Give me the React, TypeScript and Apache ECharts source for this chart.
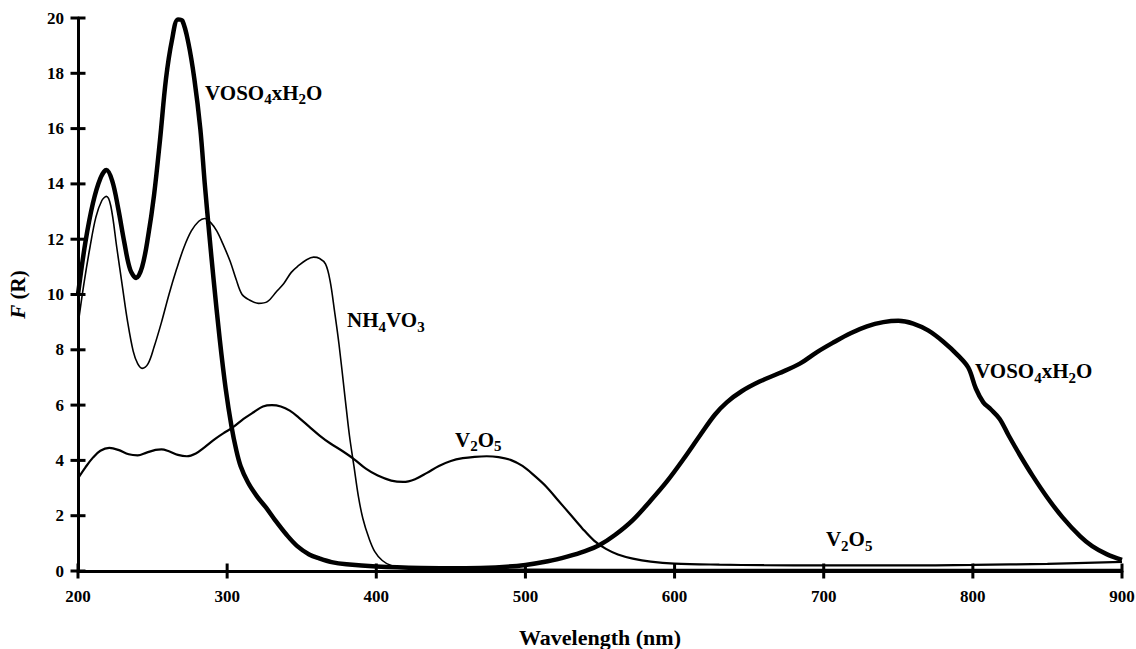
import React, { useEffect, useRef } from "react";
import * as echarts from "echarts";

const FONT = "'Liberation Serif', 'Times New Roman', serif";

// Wavelength axis ticks (nm) and F(R) axis ticks
const xTicks = [200, 300, 400, 500, 600, 700, 800, 900];
const yTicks = [0, 2, 4, 6, 8, 10, 12, 14, 16, 18, 20];

// VOSO4·xH2O spectrum
const vosoNm = [
  200, 205, 210, 215, 219, 223, 227, 231, 235, 239, 243, 247, 251, 255, 259, 263, 267, 270,
  274, 278, 282, 285, 288, 291, 295, 299, 303, 306, 309, 314, 320, 326, 332, 340, 347, 355,
  362, 370, 380, 400, 430, 460, 480, 500, 515, 528, 540, 550, 560, 572, 584, 595, 606, 617,
  627, 635, 645, 657, 670, 684, 695, 706, 718, 729, 740, 750, 760, 770, 780, 790, 797, 802,
  807, 812, 818, 824, 832, 840, 850, 860, 872, 880, 890, 900,
];
const vosoF = [
  10.0, 11.9, 13.3, 14.2, 14.5, 14.1, 13.1, 11.9, 10.9, 10.6, 11.0, 12.1, 13.6, 15.6, 17.8,
  19.2, 19.95, 19.9, 19.1, 17.8, 16.0, 14.0, 12.2, 10.5, 8.4, 6.6, 5.2, 4.4, 3.8, 3.2, 2.7,
  2.3, 1.85, 1.3, 0.9, 0.6, 0.45, 0.32, 0.24, 0.16, 0.11, 0.1, 0.13, 0.22, 0.35, 0.52, 0.72,
  0.95, 1.3, 1.84, 2.55, 3.25, 4.05, 4.9, 5.65, 6.1, 6.5, 6.85, 7.15, 7.5, 7.9, 8.25, 8.6,
  8.85, 9.0, 9.05, 8.95, 8.7, 8.3, 7.8, 7.35, 6.6, 6.1, 5.85, 5.5, 4.9, 4.15, 3.45, 2.65,
  1.95, 1.25, 0.9, 0.6, 0.4,
];

// NH4VO3 spectrum
const nh4Nm = [
  200, 204, 208, 212, 216, 219, 222, 226, 230, 233, 237, 240, 243, 247, 251, 256, 261, 266,
  271, 276, 281, 285, 289, 293, 297, 302, 306, 310, 315, 321, 327, 333, 338, 343, 348, 353,
  358, 362, 366, 369, 372, 375, 379, 382, 385, 388, 391, 395, 399, 404, 410, 420, 450, 500,
  600, 700, 800, 900,
];
const nh4F = [
  8.9, 10.4, 11.7, 12.8, 13.4, 13.55, 13.2, 11.7, 10.2, 9.1, 7.95, 7.5, 7.33, 7.5, 8.1, 9.0,
  10.0, 10.9, 11.7, 12.3, 12.65, 12.75, 12.6, 12.3, 11.85, 11.2, 10.55, 10.0, 9.8, 9.68,
  9.74, 10.1, 10.4, 10.8, 11.05, 11.25, 11.35, 11.3, 11.1, 10.5, 9.4, 8.2, 6.3, 4.9, 3.8,
  2.7, 1.9, 1.2, 0.7, 0.38, 0.2, 0.12, 0.08, 0.06, 0.05, 0.05, 0.05, 0.05,
];

// V2O5 spectrum
const v2o5Nm = [
  200, 205, 210, 215, 221, 227, 234, 240, 246, 252, 256, 261, 267, 273, 279, 285, 292, 298,
  304, 311, 318, 324, 330, 336, 342, 348, 355, 362, 369, 377, 385, 393, 401, 410, 418, 426,
  434, 442, 450, 458, 466, 474, 482, 490, 498, 506, 514, 522, 530, 538, 546, 554, 562, 572,
  584, 600, 630, 660, 700, 750, 800, 850, 900,
];
const v2o5F = [
  3.35, 3.75, 4.1, 4.35, 4.45, 4.38, 4.22, 4.18, 4.28, 4.38, 4.4, 4.33, 4.2, 4.15, 4.25,
  4.48, 4.78, 5.0, 5.2, 5.5, 5.75, 5.95, 6.0, 5.95, 5.8, 5.55, 5.22, 4.9, 4.62, 4.35, 4.05,
  3.7, 3.45, 3.27, 3.22, 3.32, 3.55, 3.8, 3.98, 4.08, 4.13, 4.15, 4.12, 4.02, 3.8, 3.45,
  3.05, 2.55, 2.05, 1.55, 1.1, 0.8, 0.6, 0.45, 0.34, 0.27, 0.23, 0.21, 0.2, 0.2, 0.22,
  0.26, 0.33,
];

// Curve labels: rich-text markup and anchor (left edge, text middle) in data units
const labelTexts = [
  "{m|VOSO}{s|4}{m|xH}{s|2}{m|O}",
  "{m|NH}{s|4}{m|VO}{s|3}",
  "{m|V}{s|2}{m|O}{s|5}",
  "{m|VOSO}{s|4}{m|xH}{s|2}{m|O}",
  "{m|V}{s|2}{m|O}{s|5}",
];
const labelNm = [285.2, 380.4, 452.8, 801.5, 701.5];
const labelF = [17.29, 9.06, 4.74, 7.23, 1.14];

const zip = (xs: number[], ys: number[]) => xs.map((x, i) => [x, ys[i]]);

const labelRich = {
  m: { fontFamily: FONT, fontWeight: "bold", fontSize: 21, lineHeight: 28, fill: "#000", color: "#000" },
  s: {
    fontFamily: FONT,
    fontWeight: "bold",
    fontSize: 15,
    lineHeight: 15,
    verticalAlign: "bottom",
    fill: "#000",
    color: "#000",
  },
};

// Tick marks straddling each axis line: half-length and thickness
const TICK_HALF = 7.5;
const TICK_W = 3;

export default function App() {
  const ref = useRef<HTMLDivElement>(null);

  useEffect(() => {
    if (!ref.current) return;
    const chart = echarts.init(ref.current, undefined, { renderer: "svg" });

    const axisFont = { fontFamily: FONT, fontWeight: "bold" as const, fontSize: 17, color: "#000" };
    const lineStyle = { color: "#000", width: 3 };

    chart.setOption({
      animation: false,
      backgroundColor: "#fff",
      grid: { left: 78, right: 14, top: 18, bottom: 78, containLabel: false, outerBoundsMode: "none" },
      xAxis: {
        type: "value",
        min: xTicks[0],
        max: xTicks[xTicks.length - 1],
        interval: 100,
        position: "bottom",
        name: "Wavelength (nm)",
        nameLocation: "middle",
        nameGap: 55,
        nameTextStyle: { fontFamily: FONT, fontWeight: "bold", fontSize: 22, color: "#000" },
        axisLine: { show: true, onZero: false, lineStyle },
        axisTick: { show: false },
        axisLabel: { ...axisFont, margin: 17 },
        splitLine: { show: false },
      },
      yAxis: {
        type: "value",
        min: yTicks[0],
        max: yTicks[yTicks.length - 1],
        interval: 2,
        position: "left",
        name: "{i|F} (R)",
        nameLocation: "middle",
        nameGap: 50,
        nameTextStyle: {
          fontFamily: FONT,
          fontWeight: "bold",
          fontSize: 21,
          color: "#000",
          rich: {
            i: { fontFamily: FONT, fontWeight: "bold", fontStyle: "italic", fontSize: 21, color: "#000" },
          },
        },
        axisLine: { show: true, onZero: false, lineStyle },
        axisTick: { show: false },
        axisLabel: { ...axisFont, margin: 14 },
        splitLine: { show: false },
      },
      series: [
        {
          name: "V2O5",
          type: "line",
          data: zip(v2o5Nm, v2o5F),
          showSymbol: false,
          smooth: 0.35,
          lineStyle: { color: "#000", width: 2.2 },
          z: 3,
        },
        {
          name: "NH4VO3",
          type: "line",
          data: zip(nh4Nm, nh4F),
          showSymbol: false,
          smooth: 0.35,
          lineStyle: { color: "#000", width: 1.6 },
          z: 3,
        },
        {
          name: "VOSO4xH2O",
          type: "line",
          data: zip(vosoNm, vosoF),
          showSymbol: false,
          smooth: 0.35,
          lineStyle: { color: "#000", width: 4.5 },
          z: 4,
        },
      ],
    });

    const toPx = (x: number, y: number) =>
      chart.convertToPixel({ gridIndex: 0 }, [x, y]) as number[];

    const xTickMarks = xTicks.map((v) => {
      const [px, py] = toPx(v, yTicks[0]);
      return {
        type: "rect",
        z: 20,
        shape: { x: px - TICK_W / 2, y: py - TICK_HALF, width: TICK_W, height: TICK_HALF * 2 },
        style: { fill: "#000" },
      };
    });
    const yTickMarks = yTicks.map((v) => {
      const [px, py] = toPx(xTicks[0], v);
      return {
        type: "rect",
        z: 20,
        shape: { x: px - TICK_HALF, y: py - TICK_W / 2, width: TICK_HALF * 2, height: TICK_W },
        style: { fill: "#000" },
      };
    });

    const labels = labelTexts.map((text, i) => {
      const [px, py] = toPx(labelNm[i], labelF[i]);
      return {
        type: "text",
        x: px,
        y: py,
        z: 10,
        style: {
          text,
          rich: labelRich,
          align: "left",
          verticalAlign: "middle",
          fill: "#000",
        },
      };
    });
    chart.setOption({ graphic: [...xTickMarks, ...yTickMarks, ...labels] });

    return () => chart.dispose();
  }, []);

  return (
    <div
      ref={ref}
      style={{ position: "fixed", left: 0, top: 0, width: 1136, height: 649, background: "#fff" }}
    />
  );
}
